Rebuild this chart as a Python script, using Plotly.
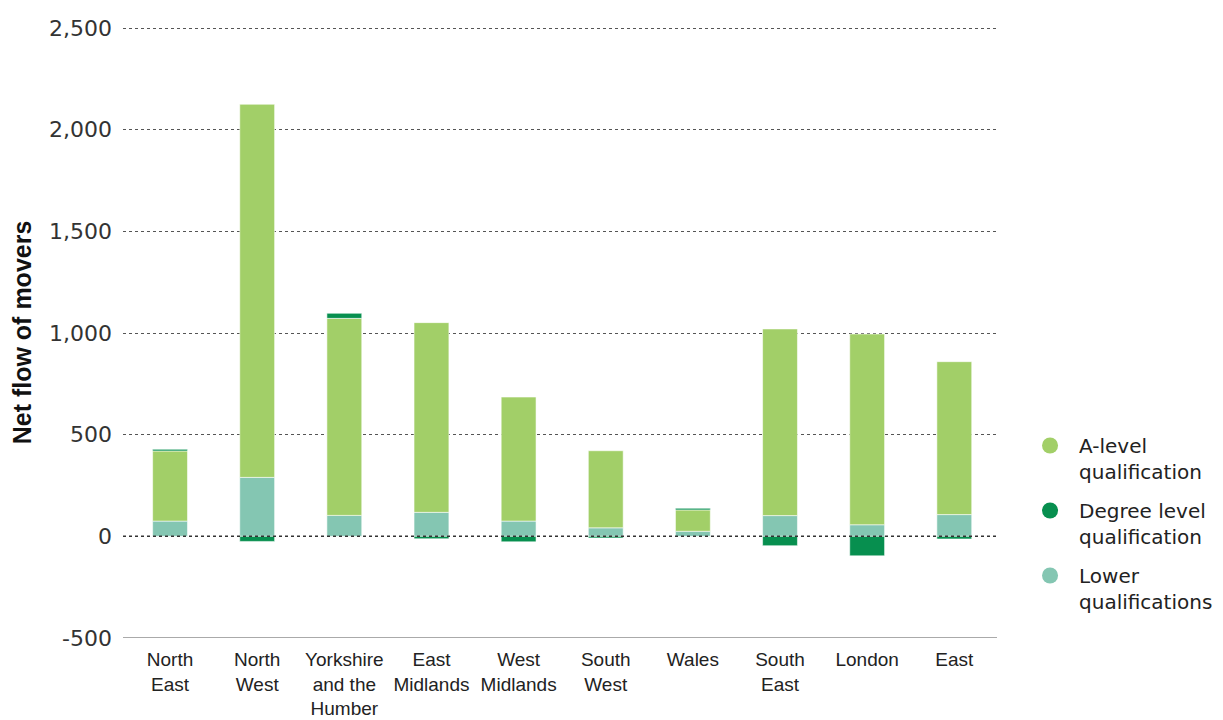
import plotly.graph_objects as go

regions = ["North<br>East", "North<br>West", "Yorkshire<br>and the<br>Humber", "East<br>Midlands",
           "West<br>Midlands", "South<br>West", "Wales", "South<br>East", "London", "East"]
lower = [75, 290, 103, 118, 75, 42, 25, 102, 57, 107]
alevel = [345, 1835, 969, 933, 610, 379, 105, 918, 938, 752]
degree = [8, -25, 25, -12, -27, -8, 8, -46, -96, -13]

series_names = ["A-level<br>qualification", "Degree level<br>qualification", "Lower<br>qualifications"]
y_ticks = [-500, 0, 500, 1000, 1500, 2000, 2500]
y_ticktext = ["-500", "0", "500", "1,000", "1,500", "2,000", "2,500"]
c_a = "#a2cf68"
c_d = "#078f4f"
c_l = "#84c6b2"

x = list(range(len(regions)))
edge = dict(color="rgba(255,255,255,0.55)", width=1)

fig = go.Figure()
fig.add_trace(go.Bar(x=x, y=lower, marker=dict(color=c_l, line=edge), width=0.4, showlegend=False))
fig.add_trace(go.Bar(x=x, y=alevel, marker=dict(color=c_a, line=edge), width=0.4, showlegend=False))
fig.add_trace(go.Bar(x=x, y=degree, marker=dict(color=c_d, line=edge), width=0.4, showlegend=False))

for i, (name, col) in enumerate(zip(series_names, [c_a, c_d, c_l])):
    fig.add_trace(go.Scatter(x=[None], y=[None], mode="markers", name=name, legendgroup=f"g{i}",
                             marker=dict(color=col, size=21, symbol="circle")))

fig.add_shape(type="line", xref="paper", x0=0, x1=1, yref="y", y0=0, y1=0,
              line=dict(color="#333333", width=1.5, dash="dot"), layer="above")
fig.add_shape(type="line", xref="paper", x0=0, x1=1, yref="y", y0=-500, y1=-500,
              line=dict(color="#aaaaaa", width=2), layer="above")

fig.update_layout(
    width=1215, height=712,
    barmode="relative",
    plot_bgcolor="white", paper_bgcolor="white",
    margin=dict(l=115, r=226, t=19, b=82, autoexpand=False),
    font=dict(family="Liberation Sans", color="#222222"),
    showlegend=True,
    legend=dict(x=1.0275, y=0.347, xanchor="left", yanchor="top", valign="top",
                font=dict(family="DejaVu Sans", size=20, color="#222222"),
                itemwidth=48, tracegroupgap=10, traceorder="grouped"),
    xaxis=dict(tickmode="array", tickvals=x, ticktext=regions, range=[-0.54, 9.49],
               showgrid=False, zeroline=False, showline=False, ticks="", automargin=False,
               ticklabelstandoff=8,
               tickfont=dict(family="Liberation Sans", size=19, color="#222222")),
    yaxis=dict(range=[-500, 2505], tickmode="array", tickvals=y_ticks, ticktext=y_ticktext,
               showgrid=True, gridcolor="#555555", gridwidth=1, griddash="dot",
               zeroline=False, showline=False, ticks="", ticklabelstandoff=10, automargin=False,
               tickfont=dict(family="DejaVu Sans", size=22, color="#333333"),
               title=dict(text="<b>Net flow of movers</b>", standoff=10,
                          font=dict(family="Liberation Sans", size=25, color="#111111"))),
)

fig.write_html("out.html")
